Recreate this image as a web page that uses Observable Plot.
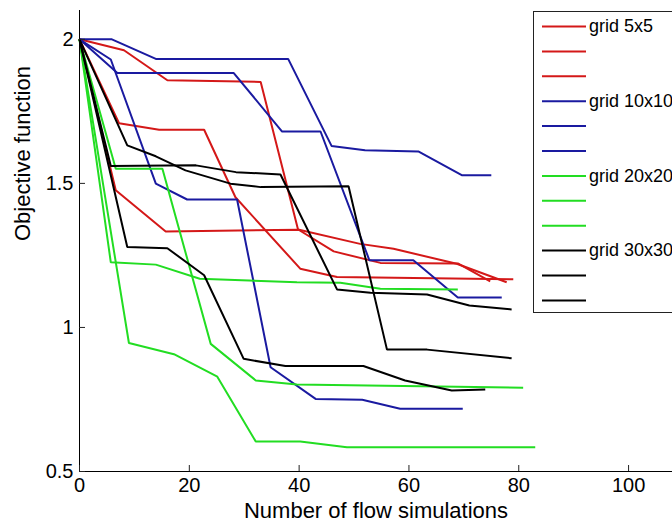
<!DOCTYPE html>
<html><head><meta charset="utf-8">
<script src="https://cdn.jsdelivr.net/npm/d3@7"></script>
<script src="https://cdn.jsdelivr.net/npm/@observablehq/plot@0.6"></script>
<style>
html,body{margin:0;padding:0;background:#fff;}
#wrap{position:relative;width:672px;height:522px;overflow:hidden;font-family:"Liberation Sans",Arial,sans-serif;}
#legend{position:absolute;left:533px;top:11px;width:170px;height:302px;border:1px solid #222;background:#fff;box-sizing:border-box;}
</style></head><body><div id="wrap"></div><script>
// ---- data (x = number of flow simulations, y = objective function) ----
const xTicks = [0, 20, 40, 60, 80, 100];
const yTicks = [0.5, 1, 1.5, 2];
const xLabel = "Number of flow simulations";
const yLabel = "Objective function";
const seriesNames = ["grid 5x5", "grid 10x10", "grid 20x20", "grid 30x30"];
const seriesColors = ["#d41818", "#1a1aa0", "#22dd22", "#000000"];

// grid 5x5 (red)
const r1x = [0, 8.1, 16, 33, 39.8, 51.1, 57.2, 68.7, 77.8];
const r1y = [2, 1.962, 1.858, 1.852, 1.34, 1.29, 1.273, 1.221, 1.157];
const r2x = [0, 7.2, 14.5, 22.7, 28.4, 40.2, 46.9, 79];
const r2y = [2, 1.709, 1.686, 1.686, 1.452, 1.204, 1.175, 1.167];
const r3x = [0, 6.6, 15.7, 39.9, 46.3, 54.8, 68.9, 74.8];
const r3y = [2, 1.476, 1.333, 1.339, 1.264, 1.224, 1.222, 1.16];
// grid 10x10 (blue)
const b1x = [0, 5.9, 13.9, 38, 45.9, 52, 61.7, 69.7, 75];
const b1y = [2, 2, 1.932, 1.932, 1.63, 1.615, 1.611, 1.528, 1.528];
const b2x = [0, 6.9, 28.1, 36.9, 43.9, 52.8, 60.8, 68.9, 76.9];
const b2y = [2, 1.883, 1.883, 1.68, 1.68, 1.233, 1.233, 1.104, 1.104];
const b3x = [0, 5.7, 13.9, 19.6, 28.7, 34.8, 43, 51.5, 58.4, 69.8];
const b3y = [2, 1.93, 1.499, 1.444, 1.444, 0.862, 0.752, 0.749, 0.718, 0.718];
// grid 20x20 (green)
const g1x = [0, 6.6, 15.1, 23.9, 32.1, 39.6, 80.8];
const g1y = [2, 1.551, 1.551, 0.943, 0.816, 0.802, 0.791];
const g2x = [0, 5.7, 13.9, 21.9, 39.6, 47.5, 54.8, 68.9];
const g2y = [2, 1.226, 1.218, 1.169, 1.157, 1.155, 1.134, 1.132];
const g3x = [0, 9, 17.2, 25.1, 32.1, 40.2, 48.7, 83];
const g3y = [2, 0.946, 0.907, 0.829, 0.604, 0.604, 0.584, 0.584];
// grid 30x30 (black)
const k1x = [0, 8.7, 13.9, 19.3, 27.5, 33, 49, 56, 63.3, 78.7];
const k1y = [2, 1.632, 1.594, 1.545, 1.499, 1.487, 1.49, 0.923, 0.923, 0.893];
const k2x = [0, 5.7, 21.2, 28.5, 36.6, 46.9, 53, 63.3, 71, 78.7];
const k2y = [2, 1.56, 1.5625, 1.539, 1.531, 1.132, 1.12, 1.114, 1.076, 1.0625];
const k3x = [0, 8.7, 16, 22.7, 29.9, 37.5, 51.7, 59.3, 67.8, 73.9];
const k3y = [2, 1.279, 1.275, 1.181, 0.891, 0.866, 0.866, 0.816, 0.781, 0.785];

const runs = [
  [[r1x, r1y], [r2x, r2y], [r3x, r3y]],
  [[b1x, b1y], [b2x, b2y], [b3x, b3y]],
  [[g1x, g1y], [g2x, g2y], [g3x, g3y]],
  [[k1x, k1y], [k2x, k2y], [k3x, k3y]]
];

const rows = [];
runs.forEach((group, si) => group.forEach(([xs, ys], ri) => xs.forEach((x, i) =>
  rows.push({x, y: ys[i], id: si + "-" + ri, color: seriesColors[si]}))));

const W = 672, H = 522, mL = 79, mR = 0, mT = 10, mB = 51, tick = 6;
const font = "'Liberation Sans', Arial, sans-serif";
const chart = Plot.plot({
  width: W, height: H,
  marginLeft: mL, marginRight: mR, marginTop: mT, marginBottom: mB,
  style: {fontFamily: font, background: "#fff", color: "#000", overflow: "hidden"},
  x: {domain: [0, 108]},
  y: {domain: [0.5, 2.1]},
  color: {type: "identity"},
  marks: [
    Plot.line(rows, {x: "x", y: "y", z: "id", stroke: "color", strokeWidth: 2, strokeLinejoin: "miter", strokeLinecap: "butt"}),
    Plot.ruleY([0.5], {stroke: "#000", strokeWidth: 1}),
    Plot.ruleX([0], {stroke: "#000", strokeWidth: 1}),
    // inward tick marks (MATLAB style)
    Plot.tickX(xTicks, {x: d => d, stroke: "#222", strokeWidth: 1, insetTop: H - mT - mB - tick}),
    Plot.tickY(yTicks, {y: d => d, stroke: "#222", strokeWidth: 1, insetRight: W - mL - mR - tick}),
    Plot.axisX(xTicks, {tickSize: 0, tickPadding: 6, fontSize: 20, label: null, tickFormat: d => String(d)}),
    Plot.axisY(yTicks, {tickSize: 0, tickPadding: 6, fontSize: 20, label: null, tickFormat: d => String(d)}),
    Plot.text([xLabel], {frameAnchor: "bottom", dy: 46, lineAnchor: "bottom", fontSize: 22, fill: "#000"}),
    Plot.text([yLabel], {frameAnchor: "left", dx: -57, rotate: -90, fontSize: 22, fill: "#000"})
  ]
});
const wrap = document.getElementById("wrap");
wrap.appendChild(chart);

// legend (three entries per series, label only on the first)
const legend = d3.select(wrap).append("div").attr("id", "legend");
const lsvg = legend.append("svg").attr("width", 170).attr("height", 300)
  .style("font-family", font).style("font-size", "18px");
let k = 0;
seriesNames.forEach((name, si) => {
  runs[si].forEach((_, ri) => {
    const y = 14.5 + k * 24.9;
    lsvg.append("line").attr("x1", 8).attr("x2", 52).attr("y1", y).attr("y2", y)
      .attr("stroke", seriesColors[si]).attr("stroke-width", 2);
    if (ri === 0) lsvg.append("text").attr("x", 55).attr("y", y).attr("dy", "0.32em")
      .attr("fill", "#000").text(name);
    k++;
  });
});
</script></body></html>
